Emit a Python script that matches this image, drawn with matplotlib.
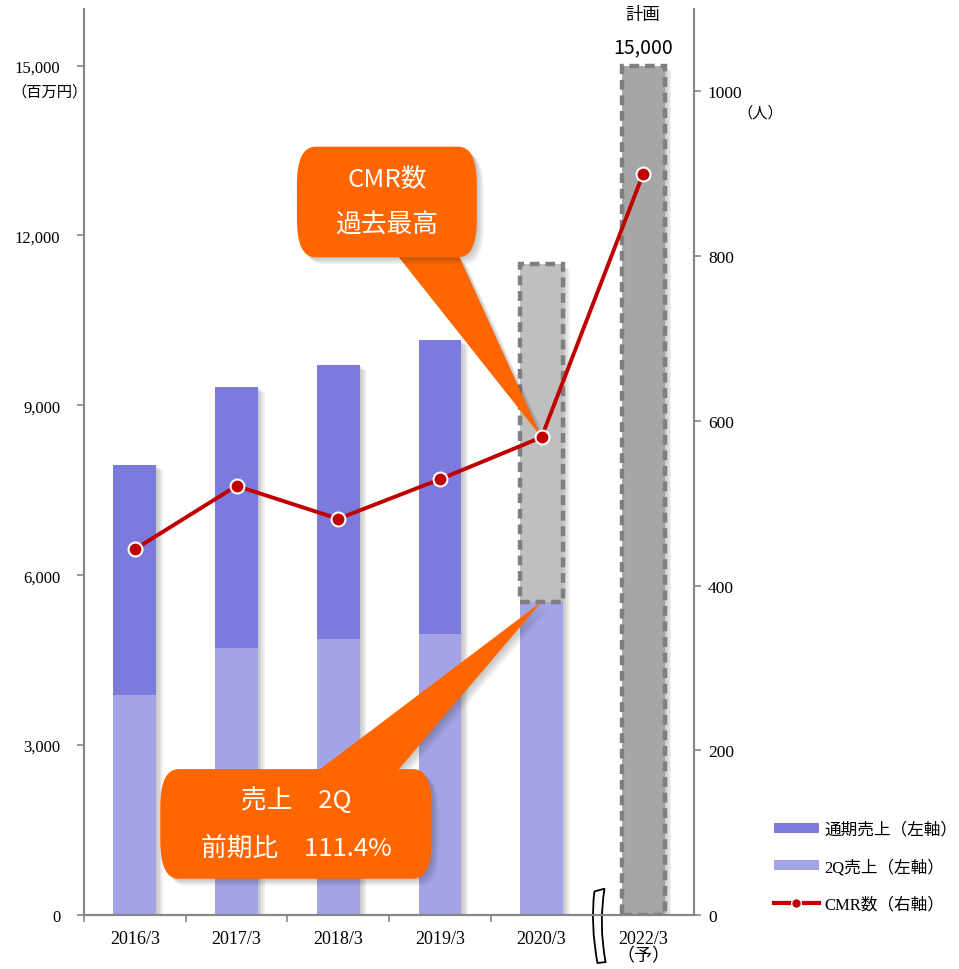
import matplotlib
matplotlib.use("Agg")
import matplotlib.pyplot as plt
import matplotlib.patheffects as pe
from matplotlib.patches import FancyBboxPatch, Polygon, Patch, PathPatch
from matplotlib.lines import Line2D
from matplotlib.path import Path
import matplotlib.transforms as mtransforms

SERIF = ['Liberation Serif', 'Noto Sans CJK JP']
GOTHIC = ['Noto Sans CJK JP', 'DejaVu Sans']

years = ['2016/3', '2017/3', '2018/3', '2019/3', '2020/3', '2022/3\n（予）']
full_year = [7950, 9330, 9720, 10160]          # 通期売上 (百万円)
q2_sales = [3890, 4720, 4880, 4970, 5530]      # 2Q売上 (百万円)
forecast_2020 = 11500                          # 2020/3 通期見込み
plan_2022 = 15000                              # 2022/3 計画
cmr = [444, 521, 481, 529, 580, 900]           # CMR数 (人)

c_full = '#7B7BDD'
c_q2 = '#A3A3E6'
c_line = '#C00000'
c_orange = '#FF6600'
c_axis = '#868686'


def soft_shadow(alpha=0.07, steps=4, dx=1.2, dy=1.0):
    # stack of faint offset copies -> blurred drop shadow
    fx = [pe.SimplePatchShadow(offset=(dx * i, -dy * i), alpha=alpha, shadow_rgbFace='#333333')
          for i in range(steps, 0, -1)]
    return fx + [pe.Normal()]


fig = plt.figure(figsize=(9.59, 9.70), dpi=100)
ax = fig.add_axes([0.0876, 0.0557, 0.6361, 0.934])
ax2 = ax.twinx()

x = list(range(len(years)))
w = 0.42

# shadows behind the whole stacked bars
totals = full_year + [forecast_2020, plan_2022]
sh = ax.bar(x, totals, width=w, color='white', zorder=1)
for b in sh:
    b.set_path_effects(soft_shadow())

# 2Q and full-year bars
ax.bar(x[:5], q2_sales, width=w, color=c_q2, zorder=2)
ax.bar(x[:4], [f - q for f, q in zip(full_year, q2_sales)], bottom=q2_sales[:4],
       width=w, color=c_full, zorder=2)

# forecast / plan boxes with dashed outline
ax.bar(x[4], forecast_2020 - q2_sales[4], bottom=q2_sales[4], width=w,
       color='#BFBFBF', edgecolor='#7F7F7F', linewidth=3.2, linestyle=(0, (2.2, 1.3)), zorder=2)
ax.bar(x[5], plan_2022, width=w, color='#A6A6A6', edgecolor='#7F7F7F',
       linewidth=3.2, linestyle=(0, (2.2, 1.3)), zorder=2)

ax.set_xlim(-0.5, len(years) - 0.5)
ax.set_ylim(0, 16000)
ax.set_yticks([0, 3000, 6000, 9000, 12000, 15000])
ax.set_yticklabels(['0', '3,000', '6,000', '9,000', '12,000', '15,000'], family=SERIF, fontsize=12)
ax.set_xticks(x)
ax.set_xticklabels(years, family=SERIF, fontsize=13, linespacing=1.0)
ax.set_xticks([i + 0.5 for i in range(-1, 4)], minor=True)
ax.tick_params(axis='x', which='major', length=0, pad=11)
ax.tick_params(axis='x', which='minor', length=5, width=1.2, color=c_axis, direction='out')
ax.tick_params(axis='y', length=5, width=1.2, color=c_axis, pad=12)

ax2.set_ylim(0, 1100)
ax2.set_yticks([0, 200, 400, 600, 800, 1000])
ax2.set_yticklabels(['0', '200', '400', '600', '800', '1000'], family=SERIF, fontsize=12.5)
ax2.tick_params(axis='y', length=5, width=1.2, color=c_axis, pad=5)

for a in (ax, ax2):
    a.spines['top'].set_visible(False)
    for s in ('left', 'right', 'bottom'):
        a.spines[s].set_color(c_axis)
        a.spines[s].set_linewidth(1.5)

# CMR line
ax2.plot(x, cmr, color=c_line, linewidth=2.8, marker='o', markersize=10,
         markerfacecolor=c_line, markeredgecolor='white', markeredgewidth=1.5, zorder=5)

# unit labels and plan value
fig.text(0.052, 0.905, '（百万円）', family=GOTHIC, fontsize=11, ha='center', va='center')
fig.text(0.793, 0.883, '（人）', family=GOTHIC, fontsize=11, ha='center', va='center')
ax.text(x[5], plan_2022 + 330, f'{plan_2022:,}', family=GOTHIC, fontsize=14,
        ha='center', va='center')
ax.text(x[5], plan_2022 + 920, '計画', family=GOTHIC, fontsize=12.5,
        ha='center', va='center', clip_on=False)

# axis break mark between 2020/3 and 2022/3
brk = mtransforms.blended_transform_factory(ax.transData, ax.transAxes)
verts = [(4.52, 0.026), (4.62, 0.029), (4.56, -0.010), (4.63, -0.052),
         (4.55, -0.053), (4.48, -0.010), (4.52, 0.026)]
codes = [Path.MOVETO, Path.LINETO, Path.CURVE3, Path.CURVE3, Path.LINETO,
         Path.CURVE3, Path.CURVE3]
ax.add_patch(PathPatch(Path(verts, codes), facecolor='white', edgecolor='black',
                       linewidth=1.3, transform=brk, clip_on=False, zorder=6))


def callout(box, base, tip, lines, text_dy):
    x0, y0, x1, y1 = box
    tri = Polygon([base[0], base[1], tip], closed=True, facecolor=c_orange,
                  edgecolor='none', transform=ax.transAxes, clip_on=False, zorder=3)
    tri.set_path_effects(soft_shadow(alpha=0.06, steps=5, dx=1.0, dy=1.0))
    ax.add_patch(tri)
    bb = FancyBboxPatch((x0, y0), x1 - x0, y1 - y0, boxstyle='round,pad=0,rounding_size=0.03',
                        mutation_aspect=1.4, facecolor=c_orange, edgecolor='none',
                        transform=ax.transAxes, clip_on=False, zorder=3)
    bb.set_path_effects(soft_shadow(alpha=0.06, steps=5, dx=1.0, dy=1.0))
    ax.add_patch(bb)
    cx, cy = (x0 + x1) / 2, (y0 + y1) / 2
    for i, t in enumerate(lines):
        ax.text(cx, cy + text_dy * (0.5 - i), t, transform=ax.transAxes, color='white',
                family=GOTHIC, fontsize=18.5, ha='center', va='center', zorder=4)


fig.canvas.draw()
to_axes = ax.transAxes.inverted()
tip_cmr = to_axes.transform(ax2.transData.transform((x[4], cmr[4])))
tip_q2 = to_axes.transform(ax.transData.transform((x[4], q2_sales[4])))

callout((0.349, 0.726, 0.644, 0.848), [(0.515, 0.727), (0.615, 0.727)], tip_cmr,
        ['CMR数', '過去最高'], 0.051)
callout((0.125, 0.040, 0.570, 0.161), [(0.385, 0.160), (0.515, 0.160)], tip_q2,
        ['売上　2Q', '前期比　111.4%'], 0.053)

# legend
handles = [Patch(facecolor=c_full), Patch(facecolor=c_q2),
           Line2D([], [], color=c_line, linewidth=3, marker='o', markersize=7,
                  markerfacecolor=c_line, markeredgecolor='white', markeredgewidth=1)]
labels = ['通期売上（左軸）', '2Q売上（左軸）', 'CMR数（右軸）']
fig.legend(handles, labels, loc='upper left', bbox_to_anchor=(0.807, 0.152),
           frameon=False, prop={'family': SERIF, 'size': 12}, handlelength=2.7,
           handleheight=0.55, handletextpad=0.35, labelspacing=1.25, borderpad=0,
           borderaxespad=0)

fig.savefig('out.png', dpi=100)
